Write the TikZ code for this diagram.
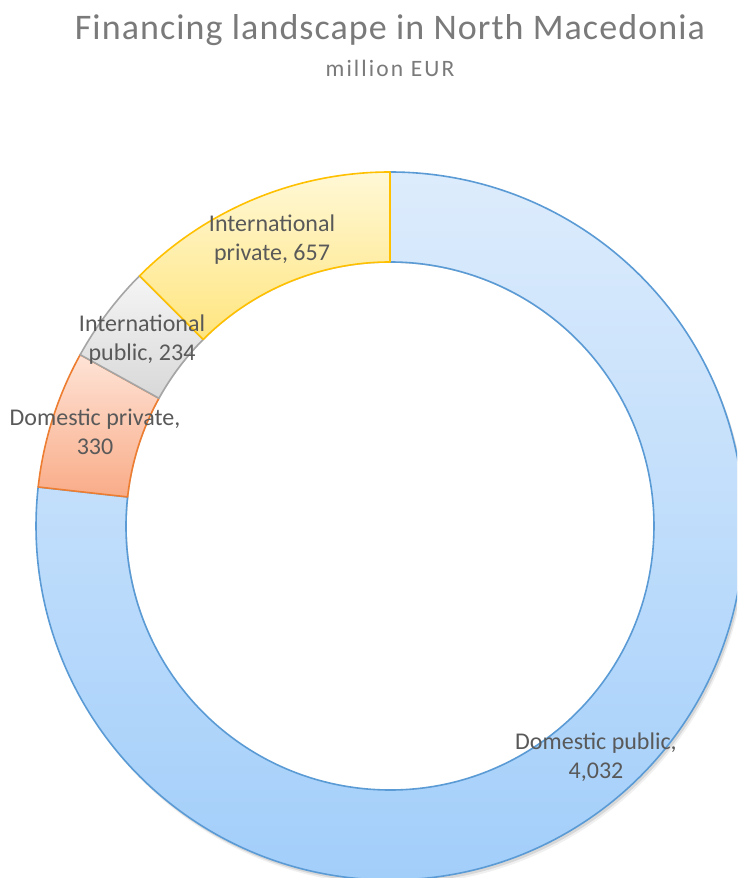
\documentclass[tikz,border=0pt]{standalone}
\usepackage{fontspec}
\setmainfont{Carlito}
\newfontfamily\titlefont[LetterSpace=3]{Carlito}
\newfontfamily\subfont[LetterSpace=9]{Carlito}
\definecolor{titlegray}{HTML}{7A7A7A}
\definecolor{labelgray}{HTML}{595959}
\definecolor{bluetop}{HTML}{DDECFC}
\definecolor{bluebot}{HTML}{A2CEFA}
\definecolor{blueline}{HTML}{5B9BD5}
\definecolor{orgtop}{HTML}{FEE3D6}
\definecolor{orgbot}{HTML}{F9AC88}
\definecolor{orgline}{HTML}{ED7D31}
\definecolor{grytop}{HTML}{F5F5F5}
\definecolor{grybot}{HTML}{D8D8D8}
\definecolor{gryline}{HTML}{A5A5A5}
\definecolor{yeltop}{HTML}{FFF8D6}
\definecolor{yelbot}{HTML}{FFE57F}
\definecolor{yelline}{HTML}{FFC000}
\newcommand\Ro{354}
\newcommand\Ri{264}
\newcommand\slicepath[2]{(#1:\Ro) arc[start angle=#1,end angle=#2,radius=\Ro] -- (#2:\Ri) arc[start angle=#2,end angle=#1,radius=\Ri] -- cycle}
\tikzset{
  slice/.style={line width=1.6pt, line join=round},
  lbl/.style={text=labelgray, align=center, font=\fontsize{24}{29}\selectfont, inner sep=0pt}
}
\begin{document}
\begin{tikzpicture}[x=1pt,y=1pt]
\useasboundingbox (0,0) rectangle (737,878);
\fill[white] (0,0) rectangle (737,878);
\begin{scope}
\clip (0,0) rectangle (737,878);
\begin{scope}[shift={(390,352)}]
  % soft shadow
  \fill[black, opacity=0.10, even odd rule, shift={(2,-3)}] (0,0) circle[radius=\Ro] (0,0) circle[radius=\Ri];
  \fill[black, opacity=0.06, even odd rule, shift={(3,-5)}] (0,0) circle[radius=\Ro] (0,0) circle[radius=\Ri];
  \fill[white] (0,0) circle[radius=\Ri-1];
  % slices
  \path[slice, top color=bluetop, bottom color=bluebot, draw=blueline] \slicepath{90}{-186.323};
  \path[slice, top color=orgtop, bottom color=orgbot, draw=orgline] \slicepath{-186.323}{-208.939};
  \path[slice, top color=grytop, bottom color=grybot, draw=gryline] \slicepath{-208.939}{-224.975};
  \path[slice, top color=yeltop, bottom color=yelbot, draw=yelline] \slicepath{-224.975}{-270};
\end{scope}
\end{scope}
% title
\node[text=titlegray, font=\titlefont\fontsize{36}{42}\selectfont, anchor=base, inner sep=0pt] (title) at (390,878-40) {Financing landscape in North Macedonia};
\node[text=titlegray, font=\subfont\fontsize{23.5}{28}\selectfont, anchor=base, inner sep=0pt] (subtitle) at (390,878-77) {million EUR};
% labels
\node[lbl] (lip) at (272,878-240) {International\\private, 657};
\node[lbl] (lipu) at (142,878-340) {International\\public, 234};
\node[lbl] (ldp) at (95,878-432) {Domestic private,\\330};
\node[lbl] (ldpu) at (596,878-757) {Domestic public,\\4,032};
\end{tikzpicture}
\end{document}
